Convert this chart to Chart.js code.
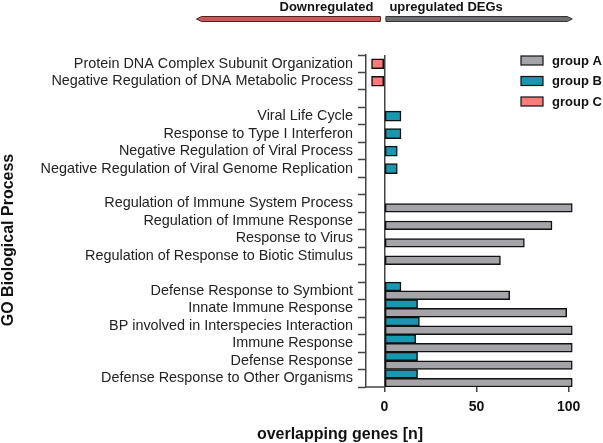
<!DOCTYPE html>
<html><head><meta charset="utf-8">
<script src="https://cdn.jsdelivr.net/npm/chart.js@4/dist/chart.umd.min.js"></script>
<style>html,body{margin:0;padding:0;background:#fff}#wrap{position:relative;width:603px;height:443px}</style>
</head><body><div id="wrap"><canvas id="c" width="603" height="443"></canvas></div>
<script>
const categories = [
  'Protein DNA Complex Subunit Organization',
  'Negative Regulation of DNA Metabolic Process',
  '',
  'Viral Life Cycle',
  'Response to Type I Interferon',
  'Negative Regulation of Viral Process',
  'Negative Regulation of Viral Genome Replication',
  '',
  'Regulation of Immune System Process',
  'Regulation of Immune Response',
  'Response to Virus',
  'Regulation of Response to Biotic Stimulus',
  '',
  'Defense Response to Symbiont',
  'Innate Immune Response',
  'BP involved in Interspecies Interaction',
  'Immune Response',
  'Defense Response',
  'Defense Response to Other Organisms'
];
const groupA = [null, null, null, null, null, null, null, null, 102, 91, 76, 63, null, 68, 99, 102, 102, 102, 102];
const groupB = [null, null, null, 9, 9, 7, 7, null, 0, 0, 0, 0, null, 9, 18, 19, 17, 18, 18];
const groupC = [-7, -7, null, null, null, null, null, null, null, null, null, null, null, null, null, null, null, null, null];
const seriesNames = ['group A', 'group B', 'group C'];
const xTickValues = [0, 50, 100];
const xMin = -10, xMax = 110;
const arrowExtent = 102;
const downLabel = 'Downregulated';
const upLabel = 'upregulated DEGs';
const xTitle = 'overlapping genes [n]';
const yTitle = 'GO Biological Process';

const FONT = '"Liberation Sans", Arial, sans-serif';
const AX = '#444';

const decor = {
  id: 'decor',
  afterDraw(chart) {
    const ctx = chart.ctx, ca = chart.chartArea, xs = chart.scales.x;
    const z = xs.getPixelForValue(0);
    ctx.save();
    // short bottom axis segment
    ctx.strokeStyle = AX; ctx.lineWidth = 1.5;
    ctx.beginPath(); ctx.moveTo(ca.left - 0.75, ca.bottom); ctx.lineTo(z, ca.bottom); ctx.stroke();
    // arrows
    const r = xs.getPixelForValue(arrowExtent);
    const l = z - (r - z);
    const ay = 19, h = 2.5, head = 5;
    ctx.lineWidth = 1;
    ctx.fillStyle = '#c9585a'; ctx.strokeStyle = '#5a2020';
    ctx.beginPath();
    ctx.moveTo(l, ay); ctx.lineTo(l + head, ay - h); ctx.lineTo(z - 4, ay - h);
    ctx.lineTo(z - 4, ay + h); ctx.lineTo(l + head, ay + h); ctx.closePath();
    ctx.fill(); ctx.stroke();
    ctx.fillStyle = '#6e6e70'; ctx.strokeStyle = '#333';
    ctx.beginPath();
    ctx.moveTo(r, ay); ctx.lineTo(r - head, ay - h); ctx.lineTo(z + 1.5, ay - h);
    ctx.lineTo(z + 1.5, ay + h); ctx.lineTo(r - head, ay + h); ctx.closePath();
    ctx.fill(); ctx.stroke();
    // arrow labels
    ctx.fillStyle = '#111';
    ctx.font = 'bold 13px ' + FONT;
    ctx.textBaseline = 'alphabetic';
    ctx.textAlign = 'right'; ctx.fillText(downLabel, z - 11, 10.5);
    ctx.textAlign = 'left'; ctx.fillText(upLabel, z + 5, 10.5);
    // axis titles
    ctx.font = 'bold 16px ' + FONT;
    ctx.textAlign = 'center';
    ctx.fillText(xTitle, 340, 439);
    ctx.save();
    ctx.translate(9, 240); ctx.rotate(-Math.PI / 2);
    ctx.textBaseline = 'middle';
    ctx.fillText(yTitle, 0, 0);
    ctx.restore();
    // legend
    ctx.font = 'bold 13px ' + FONT;
    ctx.textAlign = 'left'; ctx.textBaseline = 'middle';
    chart.data.datasets.forEach((ds, i) => {
      const y = 60.5 + i * 20.5;
      ctx.fillStyle = ds.backgroundColor;
      ctx.fillRect(521, y - 4.5, 22, 9);
      ctx.strokeStyle = '#111'; ctx.lineWidth = 1.2;
      ctx.strokeRect(521, y - 4.5, 22, 9);
      ctx.fillStyle = '#111';
      ctx.fillText(ds.label, 552, y + 0.5);
    });
    ctx.restore();
  }
};

const barStyle = { borderColor: '#111', borderWidth: 1.5, borderSkipped: false };

new Chart(document.getElementById('c'), {
  type: 'bar',
  data: {
    labels: categories,
    datasets: [
      Object.assign({ label: seriesNames[0], data: groupA, backgroundColor: '#a5a5a9', order: 1 }, barStyle),
      Object.assign({ label: seriesNames[1], data: groupB, backgroundColor: '#1897b0', order: 0 }, barStyle),
      Object.assign({ label: seriesNames[2], data: groupC, backgroundColor: '#fb7b7b', order: 2 }, barStyle)
    ]
  },
  options: {
    indexAxis: 'y',
    responsive: false,
    animation: false,
    devicePixelRatio: 1,
    skipNull: true,
    categoryPercentage: 1,
    barPercentage: 1,
    maxBarThickness: 10,
    layout: { padding: { top: 55, right: 16, bottom: 0, left: 0 } },
    plugins: { legend: { display: false }, tooltip: { enabled: false } },
    scales: {
      y: {
        type: 'category',
        offset: true,
        grid: { drawOnChartArea: false, drawTicks: true, tickLength: 8, tickColor: AX, tickWidth: 1.5 },
        border: { display: true, color: AX, width: 1.5 },
        ticks: { autoSkip: false, padding: 5, color: '#222', font: { family: FONT, size: 14.4 } },
        afterFit: s => { s.width = 366; }
      },
      x: {
        type: 'linear',
        min: xMin, max: xMax,
        afterBuildTicks: s => { s.ticks = xTickValues.map(v => ({ value: v })); },
        grid: {
          drawOnChartArea: true,
          color: c => (c.tick && c.tick.value === 0) ? AX : 'rgba(0,0,0,0)',
          lineWidth: 1.5,
          drawTicks: true, tickLength: 5, tickColor: AX, tickWidth: 1.5
        },
        border: { display: false },
        ticks: { padding: 7, color: '#111', font: { family: FONT, size: 14, weight: 'bold' } },
        afterFit: s => { s.height = 56; }
      }
    }
  },
  plugins: [decor]
});
</script></body></html>
